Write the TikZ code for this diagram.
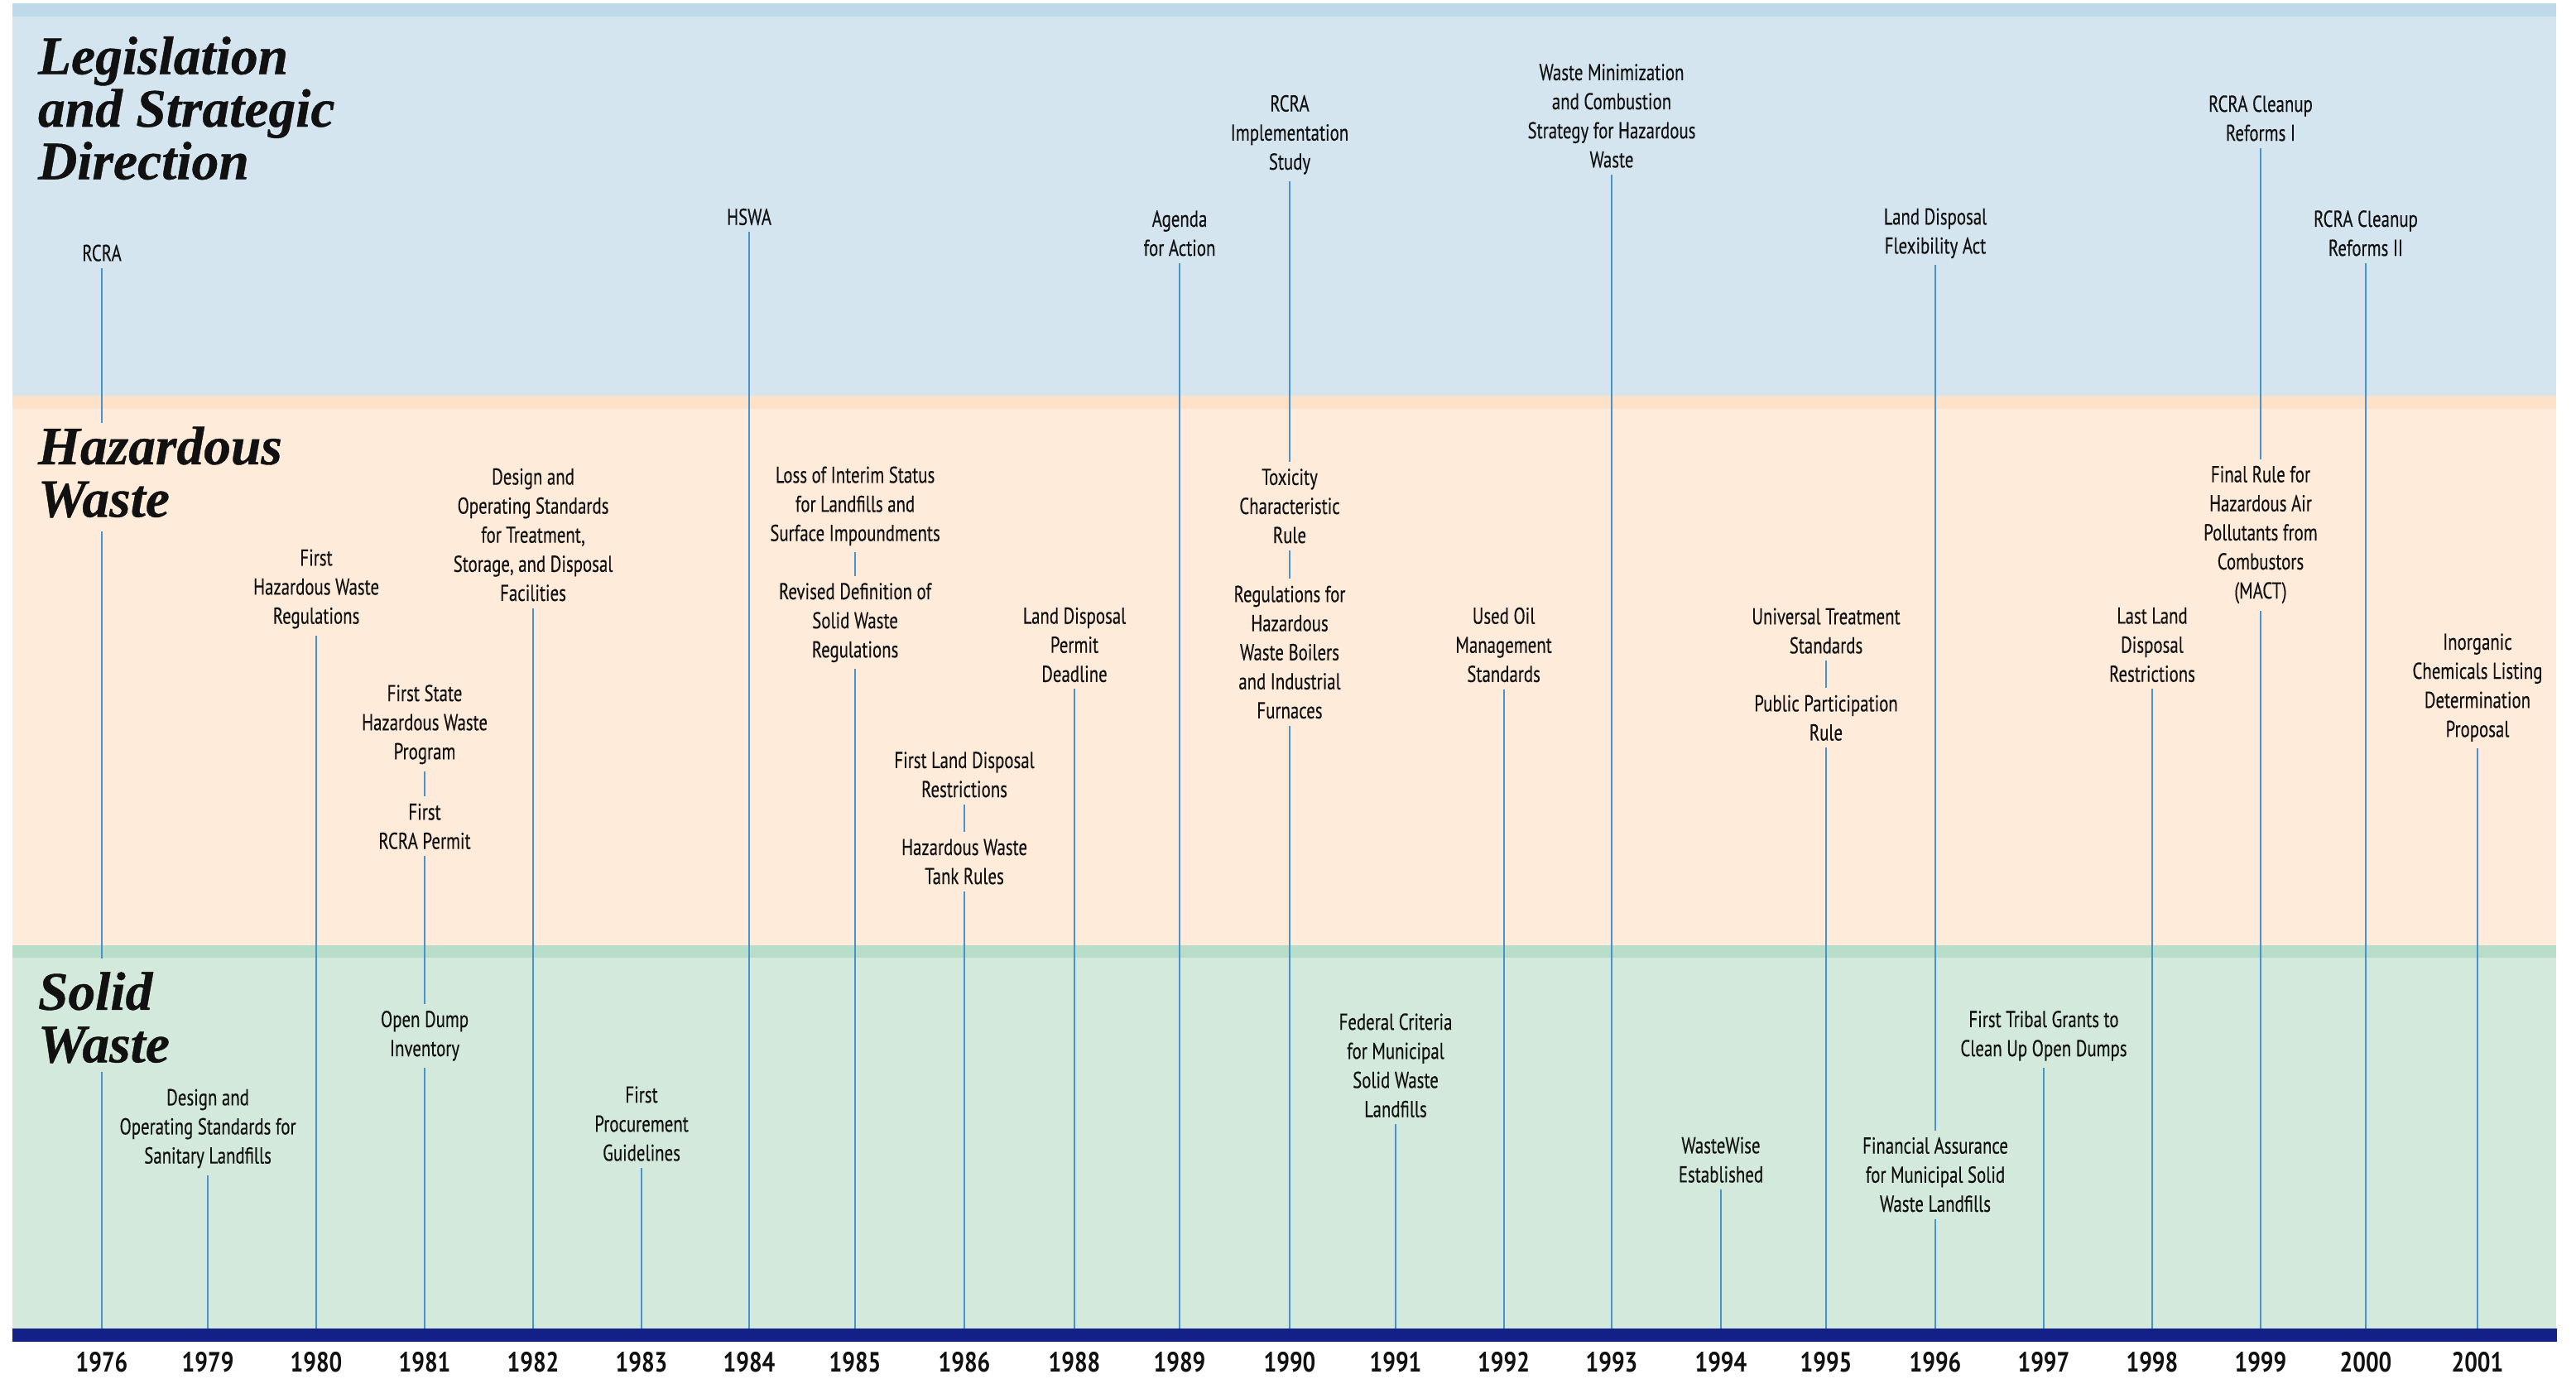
\documentclass[tikz,border=0pt]{standalone}
\usepackage{fontspec}
\newfontfamily\labfam{PT Sans}[FakeStretch=0.75, FakeBold=0.3]
\newfontfamily\yrfam{PT Sans}[FakeStretch=0.82]
\newfontfamily\ttlfam{Liberation Serif}[FakeBold=0.6]
\newcommand\labfont{\labfam\fontsize{14}{17.7}\selectfont}
\newcommand\yrfont{\yrfam\bfseries\fontsize{17}{20}\selectfont}
\newcommand\ttlfont{\ttlfam\bfseries\itshape\fontsize{33}{32}\selectfont}
\definecolor{topstrip}{HTML}{BDD9EA}
\definecolor{blueband}{HTML}{D4E5EF}
\definecolor{orstrip}{HTML}{FDE1C9}
\definecolor{orband}{HTML}{FEEBDA}
\definecolor{grstrip}{HTML}{B8DECA}
\definecolor{grband}{HTML}{D2E9DC}
\definecolor{navy}{HTML}{122087}
\definecolor{linec}{HTML}{4594CD}
\definecolor{ink}{HTML}{111111}
\tikzset{
  lab/.style={align=center, font=\labfont, text=ink, inner xsep=0pt, inner ysep=4pt},
  conn/.style={draw=linec, line width=0.9pt},
  yr/.style={font=\yrfont, text=ink, inner sep=0pt, anchor=base},
  ttl/.style={font=\ttlfont, text=ink, align=left, anchor=north west, inner sep=0pt},
}
\begin{document}
\begin{tikzpicture}[x=1pt, y=-1pt]
\useasboundingbox (0,0) rectangle (1568,839);
\fill[white] (0,0) rectangle (1568,839);
% bands
\fill[topstrip] (7.5,2) rectangle (1556,10);
\fill[blueband] (7.5,10) rectangle (1556,241);
\fill[orstrip] (7.5,241) rectangle (1556,249);
\fill[orband] (7.5,249) rectangle (1556,575.3);
\fill[grstrip] (7.5,575.3) rectangle (1556,583);
\fill[grband] (7.5,583) rectangle (1556,808.6);
\node[fill=navy, inner sep=0pt, minimum width=1548.5pt, minimum height=8pt, anchor=north west] (bar) at (7.5,808.6) {};
% titles
\node[ttl] (legT) at (23,22) {Legislation\\and Strategic\\Direction};
\node[ttl] (hazT) at (23,259.5) {Hazardous\\Waste};
\node[ttl] (solT) at (23,591.5) {Solid\\Waste};
% legislation labels
\node[lab] (rcra) at (62,154) {RCRA};
\node[lab] (hswa) at (456,132) {HSWA};
\node[lab] (agenda) at (718,142) {Agenda\\for Action};
\node[lab] (impl) at (785,82) {RCRA\\Implementation\\Study};
\node[lab] (tox) at (785,308) {Toxicity\\Characteristic\\Rule};
\node[lab] (boil) at (785,397) {Regulations for\\Hazardous\\Waste Boilers\\and Industrial\\Furnaces};
\node[lab] (wmin) at (981,70.5) {Waste Minimization\\and Combustion\\Strategy for Hazardous\\Waste};
\node[lab] (ldfa) at (1178,142) {Land Disposal\\Flexibility Act};
\node[lab] (finas) at (1178,715) {Financial Assurance\\for Municipal Solid\\Waste Landfills};
\node[lab] (cra) at (1376,72) {RCRA Cleanup\\Reforms I};
\node[lab] (mact) at (1376,325.5) {Final Rule for\\Hazardous Air\\Pollutants from\\Combustors\\(MACT)};
\node[lab] (crb) at (1440,142) {RCRA Cleanup\\Reforms II};
% hazardous labels
\node[lab] (fhwr) at (192.5,358.5) {First\\Hazardous Waste\\Regulations};
\node[lab] (fshw) at (258.5,441) {First State\\Hazardous Waste\\Program};
\node[lab] (frp) at (258.5,503) {First\\RCRA Permit};
\node[lab] (odi) at (258.5,630.5) {Open Dump\\Inventory};
\node[lab] (tsdf) at (324.5,325.5) {Design and\\Operating Standards\\for Treatment,\\Storage, and Disposal\\Facilities};
\node[lab] (lis) at (520.5,308) {Loss of Interim Status\\for Landfills and\\Surface Impoundments};
\node[lab] (rdsw) at (520.5,379) {Revised Definition of\\Solid Waste\\Regulations};
\node[lab] (fldr) at (587,471.5) {First Land Disposal\\Restrictions};
\node[lab] (hwtr) at (587,524.5) {Hazardous Waste\\Tank Rules};
\node[lab] (ldpd) at (654,392.5) {Land Disposal\\Permit\\Deadline};
\node[lab] (uoms) at (915.3,392.5) {Used Oil\\Management\\Standards};
\node[lab] (uts) at (1111.5,384) {Universal Treatment\\Standards};
\node[lab] (ppr) at (1111.5,437) {Public Participation\\Rule};
\node[lab] (lldr) at (1310,392.5) {Last Land\\Disposal\\Restrictions};
\node[lab] (icld) at (1508,418.5) {Inorganic\\Chemicals Listing\\Determination\\Proposal};
% solid waste labels
\node[lab] (dosl) at (126.5,687) {Design and\\Operating Standards for\\Sanitary Landfills};
\node[lab] (fpg) at (390.5,684) {First\\Procurement\\Guidelines};
\node[lab] (fcms) at (849.5,648.5) {Federal Criteria\\for Municipal\\Solid Waste\\Landfills};
\node[lab] (ww) at (1047.5,706) {WasteWise\\Established};
\node[lab] (ftg) at (1244,630.5) {First Tribal Grants to\\Clean Up Open Dumps};
% connectors
\draw[conn, shorten >=2pt] (rcra) -- (rcra |- hazT.north);
\draw[conn, shorten <=8pt, shorten >=8pt] (rcra |- hazT.south) -- (rcra |- solT.north);
\draw[conn, shorten <=5pt] (rcra |- solT.south) -- (rcra |- bar.north);
\draw[conn] (hswa) -- (hswa |- bar.north);
\draw[conn] (agenda) -- (agenda |- bar.north);
\draw[conn] (impl) -- (tox);
\draw[conn] (tox) -- (boil);
\draw[conn] (boil) -- (boil |- bar.north);
\draw[conn] (wmin) -- (wmin |- bar.north);
\draw[conn] (ldfa) -- (finas);
\draw[conn] (finas) -- (finas |- bar.north);
\draw[conn] (cra) -- (mact);
\draw[conn] (mact) -- (mact |- bar.north);
\draw[conn] (crb) -- (crb |- bar.north);
\draw[conn] (fhwr) -- (fhwr |- bar.north);
\draw[conn] (fshw) -- (frp);
\draw[conn] (frp) -- (odi);
\draw[conn] (odi) -- (odi |- bar.north);
\draw[conn] (tsdf) -- (tsdf |- bar.north);
\draw[conn] (lis) -- (rdsw);
\draw[conn] (rdsw) -- (rdsw |- bar.north);
\draw[conn] (fldr) -- (hwtr);
\draw[conn] (hwtr) -- (hwtr |- bar.north);
\draw[conn] (ldpd) -- (ldpd |- bar.north);
\draw[conn] (uoms) -- (uoms |- bar.north);
\draw[conn] (uts) -- (ppr);
\draw[conn] (ppr) -- (ppr |- bar.north);
\draw[conn] (lldr) -- (lldr |- bar.north);
\draw[conn] (icld) -- (icld |- bar.north);
\draw[conn] (dosl) -- (dosl |- bar.north);
\draw[conn] (fpg) -- (fpg |- bar.north);
\draw[conn] (fcms) -- (fcms |- bar.north);
\draw[conn] (ww) -- (ww |- bar.north);
\draw[conn] (ftg) -- (ftg |- bar.north);
% years
\node[yr] (y1976) at (62,835) {1976};
\node[yr] (y1979) at (126.5,835) {1979};
\node[yr] (y1980) at (192.5,835) {1980};
\node[yr] (y1981) at (258.5,835) {1981};
\node[yr] (y1982) at (324.5,835) {1982};
\node[yr] (y1983) at (390.5,835) {1983};
\node[yr] (y1984) at (456,835) {1984};
\node[yr] (y1985) at (520.5,835) {1985};
\node[yr] (y1986) at (587,835) {1986};
\node[yr] (y1988) at (654,835) {1988};
\node[yr] (y1989) at (718,835) {1989};
\node[yr] (y1990) at (785,835) {1990};
\node[yr] (y1991) at (849.5,835) {1991};
\node[yr] (y1992) at (915.3,835) {1992};
\node[yr] (y1993) at (981,835) {1993};
\node[yr] (y1994) at (1047.5,835) {1994};
\node[yr] (y1995) at (1111.5,835) {1995};
\node[yr] (y1996) at (1178,835) {1996};
\node[yr] (y1997) at (1244,835) {1997};
\node[yr] (y1998) at (1310,835) {1998};
\node[yr] (y1999) at (1376,835) {1999};
\node[yr] (y2000) at (1440,835) {2000};
\node[yr] (y2001) at (1508,835) {2001};
\end{tikzpicture}
\end{document}
